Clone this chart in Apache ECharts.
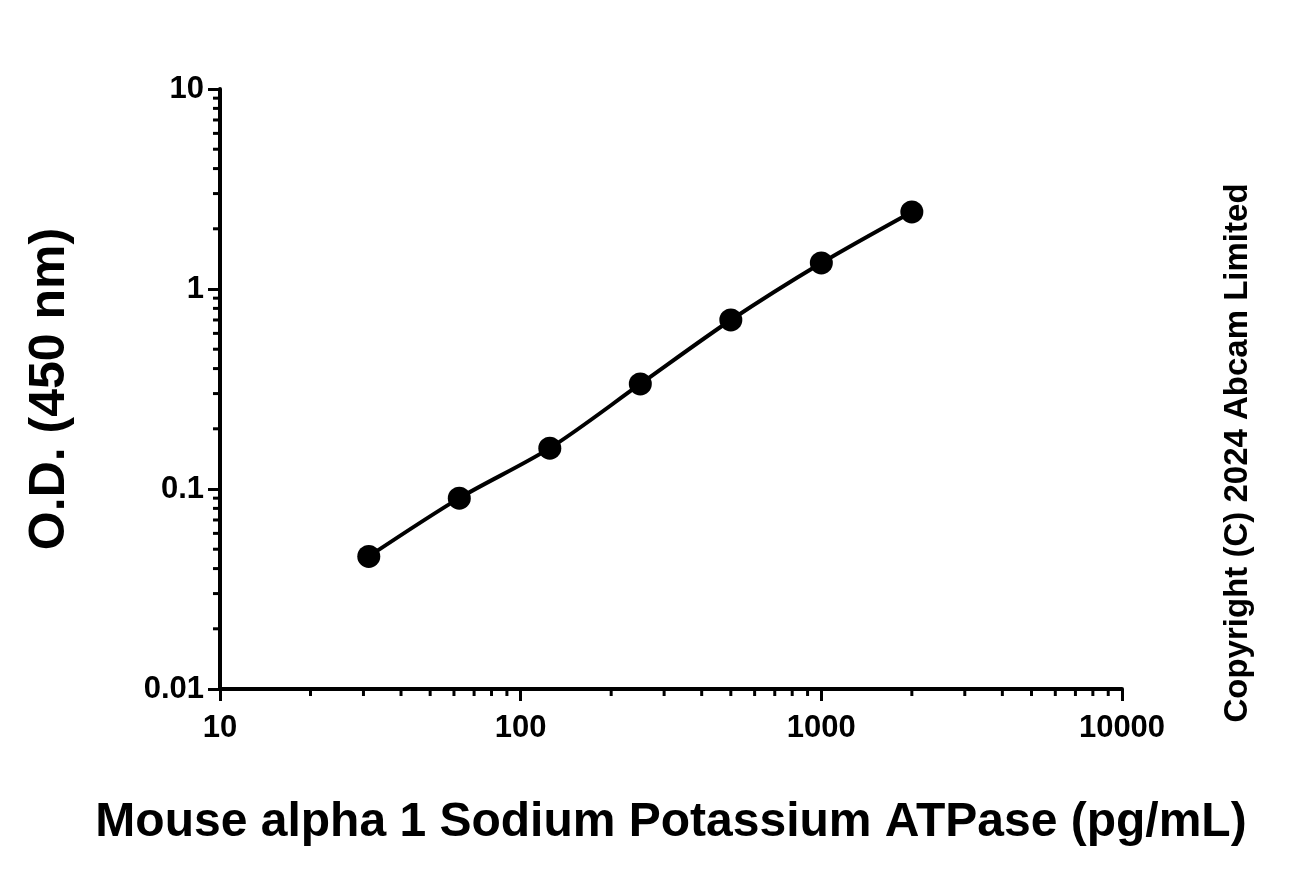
<!DOCTYPE html>
<html><head><meta charset="utf-8">
<script src="https://cdn.jsdelivr.net/npm/echarts@6/dist/echarts.min.js"></script>
<style>html,body{margin:0;padding:0;background:#fff}#c{width:1302px;height:870px}</style>
</head><body><div id="c"></div>
<script>
const concentrations = [31.25, 62.5, 125, 250, 500, 1000, 2000];
const odValues = [0.046, 0.090, 0.160, 0.335, 0.70, 1.35, 2.43];
const xMinorTicks = [];
[10, 100, 1000].forEach(d => { for (let k = 2; k <= 9; k++) xMinorTicks.push(k * d); });
const yMinorTicks = [];
[0.01, 0.1, 1].forEach(d => { for (let k = 2; k <= 9; k++) yMinorTicks.push(+(k * d).toFixed(3)); });

const F = '"Liberation Sans", Arial, sans-serif';
const chart = echarts.init(document.getElementById('c'));
chart.setOption({
  animation: false,
  grid: { left: 220, right: 180, top: 89, bottom: 181 },
  xAxis: {
    type: 'log', min: 10, max: 10000, logBase: 10,
    axisLine: { lineStyle: { color: '#000', width: 4 } },
    axisTick: { length: 12, lineStyle: { color: '#000', width: 3 } },
    splitLine: { show: false },
    axisLabel: { color: '#000', fontFamily: F, fontWeight: 'bold', fontSize: 31, margin: 24,
      formatter: v => String(Math.round(v)) },
    name: 'Mouse alpha 1 Sodium Potassium ATPase (pg/mL)', nameLocation: 'middle', nameGap: 110,
    nameTextStyle: { color: '#000', fontFamily: F, fontWeight: 'bold', fontSize: 48 }
  },
  yAxis: {
    type: 'log', min: 0.01, max: 10, logBase: 10,
    axisLine: { lineStyle: { color: '#000', width: 4 } },
    axisTick: { length: 12, lineStyle: { color: '#000', width: 3 } },
    splitLine: { show: false },
    axisLabel: { color: '#000', fontFamily: F, fontWeight: 'bold', fontSize: 31, margin: 16,
      formatter: v => String(+v.toPrecision(3)) },
    name: 'O.D. (450 nm)', nameLocation: 'middle', nameGap: 145,
    nameTextStyle: { color: '#000', fontFamily: F, fontWeight: 'bold', fontSize: 50 }
  },
  graphic: [{
    type: 'text', rotation: Math.PI / 2, x: 1238, y: 453,
    style: { text: 'Copyright (C) 2024 Abcam Limited', fill: '#000', font: 'bold 33px ' + F,
      textAlign: 'center', textVerticalAlign: 'middle' }
  }],
  series: [
    {
      type: 'line', data: concentrations.map((c, i) => [c, odValues[i]]),
      smooth: 0.3, symbol: 'circle', symbolSize: 23,
      lineStyle: { color: '#000', width: 4 }, itemStyle: { color: '#000' }
    },
    {
      type: 'custom', clip: false, silent: true, data: xMinorTicks.map(v => [v]),
      renderItem: (p, api) => {
        const pt = api.coord([api.value(0), 0.01]);
        return { type: 'line', shape: { x1: pt[0], y1: pt[1], x2: pt[0], y2: pt[1] + 7 },
          style: { stroke: '#000', lineWidth: 3 } };
      }
    },
    {
      type: 'custom', clip: false, silent: true, data: yMinorTicks.map(v => [10, v]),
      encode: { x: 0, y: 1 },
      renderItem: (p, api) => {
        const pt = api.coord([10, api.value(1)]);
        return { type: 'line', shape: { x1: pt[0], y1: pt[1], x2: pt[0] - 7, y2: pt[1] },
          style: { stroke: '#000', lineWidth: 3 } };
      }
    }
  ]
});
</script></body></html>
